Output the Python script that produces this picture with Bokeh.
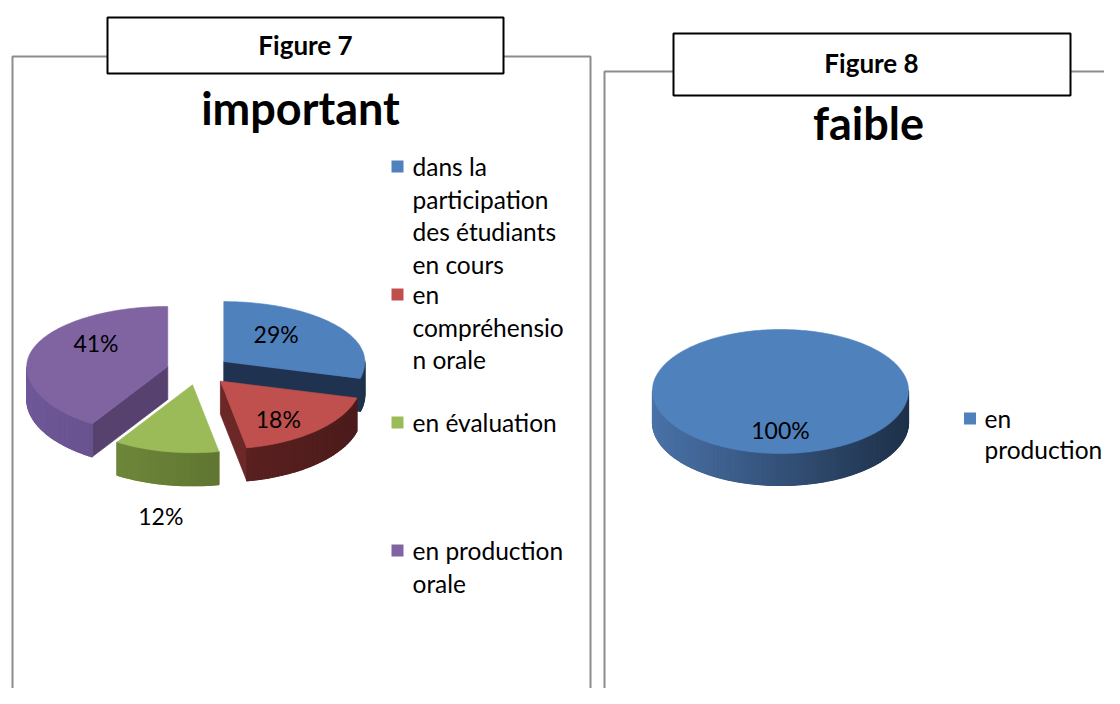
import math
from bokeh.plotting import figure
from bokeh.models import Range1d
from bokeh.core.properties import value
from bokeh.embed import file_html
from bokeh.resources import INLINE

# ---------------- data ----------------
titles = ["Figure 7", "Figure 8"]
subtitles = ["important", "faible"]

labels7 = ["dans la participation des étudiants en cours",
           "en compréhension orale", "en évaluation", "en production orale"]
legend_lines7 = [["dans la", "participation", "des étudiants", "en cours"],
                 ["en", "compréhensio", "n orale"],
                 ["en évaluation"],
                 ["en production", "orale"]]
values7 = [29, 18, 12, 41]
pct7 = ["29%", "18%", "12%", "41%"]

labels8 = ["en production"]
legend_lines8 = [["en", "production"]]
values8 = [100]
pct8 = ["100%"]

# ---------------- style ----------------
top_colors = ["#4F81BD", "#C0504D", "#9BBB59", "#8064A2"]
side_light = ["#4A72A8", "#6E2928", "#77923F", "#6F5898"]
side_dark = ["#1E3149", "#4C1B1B", "#4F6228", "#554171"]
cut_colors = ["#1F3350", "#6B2826", "#5A7030", "#57426F"]
FONT = "Lato"

W, H = 1104, 688
p = figure(width=W, height=H, output_backend="svg", toolbar_location=None,
           x_range=Range1d(0, W), y_range=Range1d(H, 0),
           x_axis_type=None, y_axis_type=None, min_border=0)
p.grid.visible = False
p.outline_line_color = None
p.background_fill_color = "white"


def hexrgb(h):
    h = h.lstrip("#")
    return tuple(int(h[i:i + 2], 16) for i in (0, 2, 4))


def lerp(c1, c2, t):
    a, b = hexrgb(c1), hexrgb(c2)
    return "#%02x%02x%02x" % tuple(int(round(a[i] + (b[i] - a[i]) * t)) for i in range(3))


def pie3d(vals, cx, cy, rx, ry_back, ry_front, depth, explode, idx_colors):
    total = float(sum(vals))
    slices = []
    a0 = 0.0
    for i, v in enumerate(vals):
        a1 = a0 + 360.0 * v / total
        slices.append((i, a0, a1))
        a0 = a1
    polys = []
    info = []
    ry_mid = (ry_back + ry_front) / 2
    for (i, t0, t1) in slices:
        b = math.radians((t0 + t1) / 2)
        e = explode if len(vals) > 1 else 0.0
        ox = cx + e * rx * math.sin(b)
        oy = cy - e * ry_mid * math.cos(b)
        ci = idx_colors[i]

        def P(th, ox=ox, oy=oy):
            r = math.radians(th)
            c = math.cos(r)
            ry = ry_back if c > 0 else ry_front
            return ox + rx * math.sin(r), oy - ry * c

        faces = []
        if len(vals) > 1:
            for th, vis in ((t0, math.sin(math.radians(t0)) < -1e-9),
                            (t1, math.sin(math.radians(t1)) > 1e-9)):
                if vis:
                    x1, y1 = P(th)
                    faces.append(([ox, x1, x1, ox], [oy, y1, y1 + depth, oy + depth],
                                  cut_colors[ci], 0.8))
        n = max(2, int((t1 - t0) / 1.5))
        angles = [t0 + (t1 - t0) * k / n for k in range(n + 1)]
        front = [th for th in angles if math.cos(math.radians(th)) <= 1e-9]
        if len(front) >= 2:
            top_pts = [P(th) for th in front]
            bx = [q[0] for q in top_pts] + [q[0] for q in reversed(top_pts)]
            by = [q[1] for q in top_pts] + [q[1] + depth for q in reversed(top_pts)]
            faces.append((bx, by, lerp(side_light[ci], side_dark[ci], 0.5), 0.5))
        for k in range(n):
            ta, tb = angles[k], angles[k + 1]
            tm = math.radians((ta + tb) / 2)
            if math.cos(tm) < 0:
                t = (math.sin(tm) + 1) / 2
                xa, ya = P(ta)
                xb, yb = P(tb)
                faces.append(([xa, xb, xb, xa], [ya, yb, yb + depth, ya + depth],
                              lerp(side_light[ci], side_dark[ci], t), 1.2))
        m = max(4, int((t1 - t0) / 1.0))
        txs, tys = ([ox], [oy]) if len(vals) > 1 else ([], [])
        for k in range(m + 1):
            x, y = P(t0 + (t1 - t0) * k / m)
            txs.append(x)
            tys.append(y)
        info.append((i, ox, oy, b))
        polys.append((oy, faces, (txs, tys, top_colors[ci], 0.6)))
    polys.sort(key=lambda q: q[0])
    xs, ys, cs, lw = [], [], [], []
    for _, faces, top in polys:
        for f in faces + [top]:
            xs.append(f[0]); ys.append(f[1]); cs.append(f[2]); lw.append(f[3])
    p.patches(xs=xs, ys=ys, fill_color=cs, line_color=cs, line_width=lw)
    return info


# ---------------- frames ----------------
p.multi_line(xs=[[107, 12, 12], [503, 590, 590], [673, 604, 604], [1070, 1110]],
             ys=[[56, 56, 700], [56, 56, 700], [71, 71, 700], [71, 71]],
             line_color="#8C8C8C", line_width=2)
p.quad(left=[107, 673], right=[503, 1070], top=[17, 33], bottom=[73, 95],
       fill_color="white", line_color="black", line_width=2)
p.text(x=[305, 871], y=[44, 62], text=titles, text_font=value(FONT),
       text_font_style="bold", text_font_size="26px", text_align="center",
       text_baseline="middle", text_color="black")
p.text(x=[300, 868], y=[107, 122], text=subtitles, text_font=value(FONT),
       text_font_style="bold", text_font_size="45px", text_align="center",
       text_baseline="middle", text_color="black")

# ---------------- pie 7 ----------------
RX7, RY7 = 141, 61
info7 = pie3d(values7, 198, 370, RX7, 60, 68, 33, 0.227, [0, 1, 2, 3])
label_layout7 = {0: (0.47, -10), 1: (0.6, 11), 2: (1.2, 59), 3: (0.53, -14)}
lx, ly, lt = [], [], []
for (i, ox, oy, b) in info7:
    f, dy = label_layout7[i]
    lx.append(ox + f * RX7 * math.sin(b))
    ly.append(oy - f * RY7 * math.cos(b) + dy)
    lt.append(pct7[i])
p.text(x=lx, y=ly, text=lt, text_font=value(FONT), text_font_size="23px",
       text_align="center", text_baseline="middle", text_color="black")

# ---------------- pie 8 ----------------
info8 = pie3d(values8, 780, 390, 128, 61, 63, 32, 0.0, [0])
p.text(x=[780], y=[429], text=pct8, text_font=value(FONT), text_font_size="23px",
       text_align="center", text_baseline="middle", text_color="black")


# ---------------- legends ----------------
def legend(lines_list, colors, sx, tx, y0, step, line_step):
    qx, qy, qc, txx, tyy, tt = [], [], [], [], [], []
    for k, lines in enumerate(lines_list):
        yy = y0 + k * step
        qx.append(sx); qy.append(yy); qc.append(colors[k])
        for j, ln in enumerate(lines):
            txx.append(tx); tyy.append(yy + j * line_step); tt.append(ln)
    p.rect(x=qx, y=qy, width=12, height=12, fill_color=qc, line_color=None)
    p.text(x=txx, y=tyy, text=tt, text_font=value(FONT), text_font_size="24.5px",
           text_align="left", text_baseline="middle", text_color="black")


legend(legend_lines7, top_colors, 397, 412, 166, 128, 32.7)
legend(legend_lines8, top_colors, 969.5, 984, 418, 128, 31)

open("out.html", "w").write(file_html(p, INLINE))
